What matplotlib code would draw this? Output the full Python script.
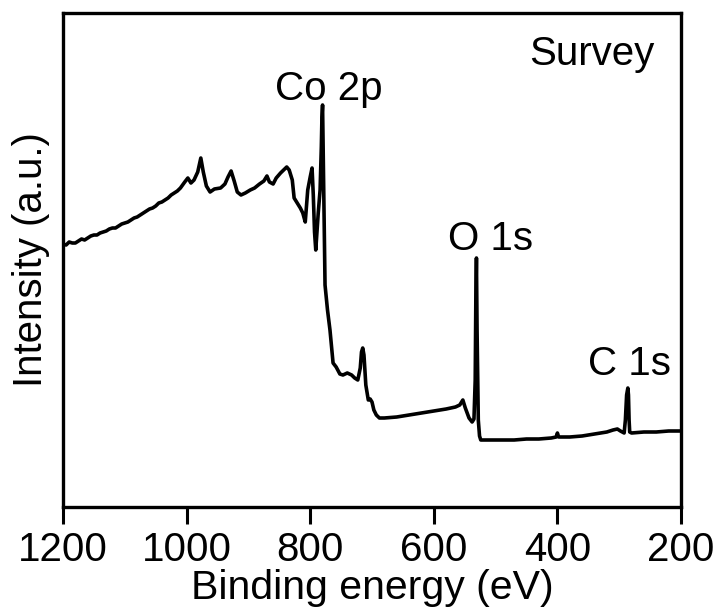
import matplotlib
matplotlib.use("Agg")
import matplotlib.pyplot as plt

plt.rcParams["font.family"] = ["Liberation Sans", "DejaVu Sans"]

# XPS survey spectrum (binding energy in eV, intensity in a.u.)
energy = [
    1200, 1195, 1190, 1185, 1180, 1175, 1170, 1165, 1160, 1155,
    1150, 1145, 1140, 1135, 1130, 1125, 1120, 1115, 1110, 1105,
    1100, 1095, 1090, 1085, 1080, 1075, 1070, 1065, 1060, 1055,
    1050, 1045, 1040, 1035, 1030, 1025, 1020, 1015, 1010,
    1003, 998, 993, 988, 982, 977, 973, 968, 962, 955,
    945, 938, 933, 928, 923, 918, 912, 905, 897, 890,
    882, 875, 870, 866, 860, 855, 848, 838, 834, 829,
    826, 820, 816, 812, 808, 804, 800, 797, 795, 793,
    791, 789, 787, 784, 782, 781, 780, 778, 776, 772,
    768, 763, 758, 752, 747, 740, 733, 728, 723, 719,
    717, 715, 713, 710, 706, 703, 700, 697, 693, 688,
    680, 660, 640, 620, 600, 580, 565, 558, 553, 549,
    543, 538, 535, 533, 532, 531, 530, 528, 526, 524,
    510, 490, 470, 450, 430, 410, 402, 400, 398, 380,
    360, 340, 320, 310, 303, 298, 292, 290, 288, 286,
    285, 284, 283, 280, 260, 240, 220, 205, 200,
]
intensity = [
    263, 262, 265, 264, 264, 266, 268, 267, 269, 271,
    272, 272, 274, 275, 276, 278, 279, 279, 281, 283,
    284, 285, 287, 289, 290, 292, 294, 296, 298, 299,
    301, 304, 305, 307, 309, 312, 314, 316, 319,
    325, 329, 324, 327, 335, 349, 335, 321, 315, 318,
    319, 323, 330, 336, 326, 315, 312, 314, 317, 319,
    323, 326, 331, 325, 323, 329, 334, 340, 337, 327,
    309, 303, 299, 294, 285, 317, 330, 339, 312, 275,
    257, 275, 294, 317, 360, 390, 402, 310, 222, 197,
    177, 144, 140, 133, 132, 134, 132, 129, 127, 139,
    155, 159, 152, 122, 107, 108, 105, 97, 92, 89,
    89, 90, 92, 94, 96, 98, 100, 102, 107, 99,
    89, 85, 88, 127, 207, 249, 177, 87, 71, 67,
    67, 67, 67, 68, 68, 69, 70, 74, 70, 70,
    71, 73, 75, 77, 78, 76, 74, 87, 112, 119,
    112, 87, 75, 74, 75, 75, 76, 76, 76,
]

peak_labels = ["Co 2p", "O 1s", "C 1s"]
label_x = [857, 577, 350]
label_y = [407, 257, 132]

fig = plt.figure(figsize=(7.21, 6.12), dpi=100)
ax = fig.add_axes([63 / 721, 1 - 507 / 612, 618 / 721, 494 / 612])

ax.plot(energy, intensity, color="black", linewidth=2.6)

for text, x, y in zip(peak_labels, label_x, label_y):
    ax.text(x, y, text, fontsize=29, ha="left", va="baseline")
ax.text(446, 442, "Survey", fontsize=29, ha="left", va="baseline")

ax.set_xlim(1200, 200)
ax.set_ylim(0, 494)
ax.set_xticks([1200, 1000, 800, 600, 400, 200])
ax.set_yticks([])
ax.tick_params(axis="x", direction="out", length=12, width=2.2, pad=5, labelsize=29)
for spine in ax.spines.values():
    spine.set_linewidth(2.4)

ax.set_xlabel("Binding energy (eV)", fontsize=29.5, labelpad=0)
ax.set_ylabel("Intensity (a.u.)", fontsize=29, labelpad=9)

fig.savefig("out.png", dpi=100)
